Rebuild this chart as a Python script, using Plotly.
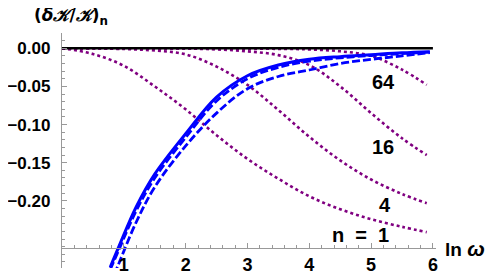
import plotly.graph_objects as go

# ---- data ----
ln_omega_n1 = [0, 0.5, 1.0, 1.5, 2.0, 2.5, 3.0, 3.5, 4.0, 4.5, 5.0, 5.5, 5.9]
dK_n1 = [0, -0.0075, -0.023, -0.050, -0.080, -0.114, -0.145, -0.171, -0.194, -0.211, -0.224, -0.234, -0.241]

ln_omega_n4 = [0, 1.0, 1.5, 2.0, 2.5, 3.0, 3.5, 4.0, 4.5, 5.0, 5.5, 5.9]
dK_n4 = [0, -0.001, -0.003, -0.008, -0.024, -0.048, -0.081, -0.116, -0.147, -0.172, -0.191, -0.203]

ln_omega_n16 = [0, 2.0, 2.5, 3.0, 3.5, 4.0, 4.5, 5.0, 5.5, 5.9]
dK_n16 = [0, -0.0005, -0.0015, -0.004, -0.009, -0.022, -0.050, -0.085, -0.118, -0.140]

ln_omega_n64 = [0, 3.5, 4.0, 4.5, 5.0, 5.5, 5.9]
dK_n64 = [0, -0.0008, -0.0015, -0.004, -0.010, -0.028, -0.048]

ln_omega_blue = [0.78, 0.92, 1.2, 1.5, 2.0, 2.5, 3.0, 3.5, 4.0, 4.5, 5.0, 5.5, 5.95]
dK_solid = [-0.287, -0.260, -0.208, -0.165, -0.112, -0.064, -0.036, -0.022, -0.0145, -0.011, -0.0085, -0.006, -0.0045]
dK_dash1 = [-0.290, -0.264, -0.213, -0.170, -0.117, -0.069, -0.040, -0.025, -0.0170, -0.0125, -0.0095, -0.007, -0.0050]
dK_dash2 = [-0.310, -0.282, -0.228, -0.182, -0.128, -0.085, -0.053, -0.037, -0.0285, -0.020, -0.0145, -0.010, -0.0058]

zero_x = [0, 6]
zero_y = [0, 0]

curve_labels = ["64", "16", "4", "n&nbsp;&nbsp;=&nbsp;&nbsp;1"]
label_x = [5.2, 5.2, 5.23, 4.83]
label_y = [-0.044, -0.129, -0.206, -0.245]

x_ticks = [1, 2, 3, 4, 5, 6]
x_tick_text = ["1", "2", "3", "4", "5", "6"]
y_ticks = [0.0, -0.05, -0.10, -0.15, -0.20]
y_tick_text = ["0.00", "−0.05", "−0.10", "−0.15", "−0.20"]

PURPLE = "#800080"
BLUE = "#0000FF"
AXIS = "#999999"
FONT = "Liberation Sans"

fig = go.Figure()

for xs, ys in [(ln_omega_n1, dK_n1), (ln_omega_n4, dK_n4), (ln_omega_n16, dK_n16), (ln_omega_n64, dK_n64)]:
    fig.add_trace(go.Scatter(x=xs, y=ys, mode="lines", line=dict(color=PURPLE, width=2.6, dash="3px,3px", shape="spline"),
                             showlegend=False, hoverinfo="skip"))

fig.add_trace(go.Scatter(x=zero_x, y=zero_y, mode="lines", line=dict(color="black", width=2.5), showlegend=False))

fig.add_trace(go.Scatter(x=ln_omega_blue, y=dK_dash2, mode="lines",
                         line=dict(color=BLUE, width=2.8, dash="8px,3px", shape="spline"), showlegend=False))
fig.add_trace(go.Scatter(x=ln_omega_blue, y=dK_dash1, mode="lines",
                         line=dict(color=BLUE, width=2.8, dash="8px,3px", shape="spline"), showlegend=False))
fig.add_trace(go.Scatter(x=ln_omega_blue, y=dK_solid, mode="lines",
                         line=dict(color=BLUE, width=3, shape="spline"), showlegend=False))

for t, x, y in zip(curve_labels, label_x, label_y):
    fig.add_annotation(x=x, y=y, text=f"<b>{t}</b>", showarrow=False,
                       font=dict(family=FONT, size=20, color="black"))

fig.add_annotation(xref="paper", yref="paper", x=0.025, y=1.072, xanchor="center", yanchor="middle",
                   text="<b>(<i>δ𝒦</i>/<i>𝒦</i>)<sub>n</sub></b>", showarrow=False,
                   font=dict(family="DejaVu Sans", size=17, color="black"))
fig.add_annotation(xref="paper", yref="paper", x=1.136, y=0.083, xanchor="right", yanchor="middle",
                   text="<b>ln <i><span style='font-size:21px'>ω</span></i></b>", showarrow=False,
                   font=dict(family=FONT, size=19, color="black"))

# the page adds an 8px body margin, so the figure is 8px smaller and margins are shifted
fig.update_layout(
    width=490, height=270, autosize=False,
    margin=dict(l=54, r=62, t=25, b=10, autoexpand=False),
    paper_bgcolor="white", plot_bgcolor="white",
    font=dict(family=FONT, size=16, color="black"),
    xaxis=dict(range=[0, 6.05], showgrid=False, zeroline=False, showline=True, linecolor=AXIS, linewidth=1.3,
               anchor="free", position=0.083, tickvals=x_ticks, ticktext=[f"<b>{t}</b>" for t in x_tick_text],
               ticks="inside", ticklen=5, tickcolor=AXIS, automargin=False,
               tickwidth=1, minor=dict(dtick=0.2, tick0=0, ticks="inside", ticklen=3, tickcolor=AXIS),
               tickfont=dict(family=FONT, size=18)),
    yaxis=dict(range=[-0.288, 0.02], showgrid=False, zeroline=False, showline=True, linecolor=AXIS, linewidth=1.3,
               tickvals=y_ticks, ticktext=[f"<b>{t}</b>" for t in y_tick_text], ticks="inside", ticklen=5,
               tickcolor=AXIS, tickwidth=1, automargin=False,
               minor=dict(dtick=0.01, tick0=0, ticks="inside", ticklen=3, tickcolor=AXIS),
               tickfont=dict(family=FONT, size=17), ticklabelstandoff=7),
)

fig.write_html("out.html")
